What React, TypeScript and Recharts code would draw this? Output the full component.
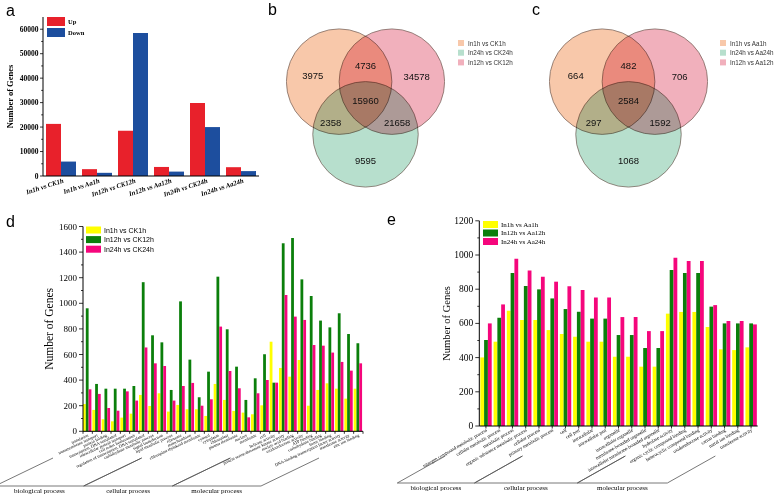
import React from 'react';
import { BarChart, Bar, XAxis, YAxis, ScatterChart, Scatter } from 'recharts';

const SERIF = '"Liberation Serif", "Times New Roman", serif';
const SANS = '"Liberation Sans", Arial, sans-serif';

// ---------- Panel a ----------
const aCategories = ['In1h vs CK1h', 'In1h vs Aa1h', 'In12h vs CK12h', 'In12h vs Aa12h', 'In24h vs CK24h', 'In24h vs Aa24h'];
const aUp = [21300, 2800, 18500, 3700, 29800, 3600];
const aDown = [5900, 1300, 58500, 1800, 20000, 2000];
const aTicks = [0, 5000, 10000, 15000, 20000, 25000, 30000, 35000, 40000, 45000, 50000, 55000, 60000];
const aNames = ['Up', 'Down'];

// ---------- Panels b / c (Venn) ----------
const vennCenters = [
  { x: -0.5, y: 0.5 },
  { x: 0.5, y: 0.5 },
  { x: 0, y: -0.5 },
];
const vennRegionPos = [
  { x: -1.0, y: 0.62 },
  { x: 0.0, y: 0.8 },
  { x: 0.97, y: 0.6 },
  { x: 0.0, y: 0.15 },
  { x: -0.66, y: -0.27 },
  { x: 0.6, y: -0.27 },
  { x: 0.0, y: -1.0 },
];
const bCounts = ['3975', '4736', '34578', '15960', '2358', '21658', '9595'];
const cCounts = ['664', '482', '706', '2584', '297', '1592', '1068'];
const bNames = ['In1h vs CK1h', 'In12h vs CK12h', 'In24h vs CK24h'];
const cNames = ['In1h vs Aa1h', 'In12h vs Aa12h', 'In24h vs Aa24h'];
const bLegend = ['In1h vs CK1h', 'In24h vs CK24h', 'In12h vs CK12h'];
const cLegend = ['In1h vs Aa1h', 'In24h vs Aa24h', 'In12h vs Aa12h'];

// ---------- Panel d ----------
const dCategories = [
  'translation', 'transmembrane transport', 'protein folding', 'transcription, DNA-templated',
  'intracellular protein transport', 'cell redox homeostasis', 'regulation of transcription, DNA-templated',
  'carbohydrate metabolic process', 'signal transduction', 'lipid metabolic process',
  'ribosome', 'mitochondrion', 'chloroplast thylakoid membrane', 'cytosol', 'cytoplasm', 'chloroplast',
  'plasma membrane', 'nucleus', 'membrane', 'cell',
  'helicase activity', 'protein serine/threonine kinase activity', 'nucleic acid binding',
  'oxidoreductase activity', 'ATP binding', 'carbohydrate binding', 'heme binding',
  'DNA-binding transcription factor activity', 'transferase activity', 'zinc ion binding',
];
const d1h = [213, 167, 94, 78, 107, 138, 284, 198, 297, 154, 206, 172, 172, 120, 370, 245, 159, 146, 133, 203, 700, 495, 427, 557, 200, 323, 375, 333, 255, 333];
const d12h = [961, 370, 333, 333, 333, 354, 1165, 750, 695, 323, 1015, 560, 266, 466, 1208, 797, 505, 245, 414, 602, 380, 1469, 1510, 1187, 1057, 865, 812, 922, 760, 688];
const d24h = [328, 292, 182, 161, 312, 240, 655, 531, 510, 240, 354, 378, 200, 250, 818, 471, 336, 109, 297, 401, 380, 1065, 896, 870, 674, 669, 615, 542, 474, 531];
const dTicks = [0, 100, 200, 300, 400, 500, 600, 700, 800, 900, 1000, 1100, 1200, 1300, 1400, 1500, 1600];
const dNames = ['In1h vs CK1h', 'In12h vs CK12h', 'In24h vs CK24h'];
const dGroups = [
  { name: 'biological process', from: 0, to: 9 },
  { name: 'cellular process', from: 10, to: 19 },
  { name: 'molecular process', from: 20, to: 29 },
];

// ---------- Panel e ----------
const eCategories = [
  'nitrogen compound metabolic process', 'cellular metabolic process', 'metabolic process',
  'organic substance metabolic process', 'cellular process', 'primary metabolic process',
  'cell', 'cell part', 'intracellular', 'intracellular part', 'organelle', 'intracellular organelle',
  'membrane-bounded organelle', 'intracellular membrane-bounded organelle',
  'hydrolase activity', 'organic cyclic compound binding', 'heterocyclic compound binding',
  'oxidoreductase activity', 'cation binding', 'metal ion binding', 'transferase activity',
];
const e1h = [401, 493, 674, 620, 620, 561, 538, 522, 493, 493, 405, 405, 347, 347, 657, 667, 667, 579, 448, 444, 460];
const e12h = [503, 633, 895, 819, 799, 746, 684, 668, 628, 628, 532, 532, 456, 456, 912, 895, 895, 698, 600, 600, 600];
const e24h = [600, 711, 978, 910, 873, 844, 817, 795, 752, 752, 637, 637, 555, 555, 984, 965, 965, 707, 614, 614, 594];
const eTicks = [0, 100, 200, 300, 400, 500, 600, 700, 800, 900, 1000, 1100, 1200];
const eNames = ['In1h vs Aa1h', 'In12h vs Aa12h', 'In24h vs Aa24h'];
const eGroups = [
  { name: 'biological process', from: 0, to: 5 },
  { name: 'cellular process', from: 6, to: 13 },
  { name: 'molecular process', from: 14, to: 20 },
];

const RED = '#e8212b';
const BLUE = '#1d4e9e';
const YEL = '#ffff00';
const GRN = '#0b7f0b';
const PNK = '#f5067c';
const VENN_FILLS = ['#f8c8aa', '#f1b0bc', '#b7dfcd'];
const VENN_LEGEND_FILLS = ['#f8c8aa', '#b7dfcd', '#f1b0bc'];

function yTick(p: any, cfg: { major: number; majorLen: number; minorLen: number; font: string; size: number; weight?: string; gap: number }) {
  const { x, y, payload } = p;
  const v = payload.value;
  const isMajor = v % cfg.major === 0;
  return (
    <g>
      <line x1={x} x2={x - (isMajor ? cfg.majorLen : cfg.minorLen)} y1={y} y2={y} stroke="#000" strokeWidth={0.8} />
      {isMajor && (
        <text x={x - cfg.majorLen - cfg.gap} y={y} textAnchor="end" dominantBaseline="central" fontFamily={cfg.font} fontSize={cfg.size} fontWeight={cfg.weight || 'normal'} fill="#000">
          {v}
        </text>
      )}
    </g>
  );
}

function slantTick(p: any, cfg: { angle: number; size: number; font: string; dx: number; dy: number; weight?: string; italic?: boolean; band?: number; tickMode?: 'edge' | 'center'; tickLen?: number; last?: number }) {
  const { x, y, payload, index } = p;
  return (
    <g>
      {cfg.tickMode === 'center' && <line x1={x} x2={x} y1={y} y2={y + (cfg.tickLen || 2)} stroke="#000" strokeWidth={0.8} />}
      {cfg.tickMode === 'edge' && <line x1={x - (cfg.band || 0) / 2} x2={x - (cfg.band || 0) / 2} y1={y} y2={y + (cfg.tickLen || 2)} stroke="#000" strokeWidth={0.8} />}
      {cfg.tickMode === 'edge' && index === cfg.last && <line x1={x + (cfg.band || 0) / 2} x2={x + (cfg.band || 0) / 2} y1={y} y2={y + (cfg.tickLen || 2)} stroke="#000" strokeWidth={0.8} />}
      <g transform={`translate(${x + cfg.dx},${y + cfg.dy}) rotate(${-cfg.angle})`}>
        <text x={0} y={0} textAnchor="end" fontFamily={cfg.font} fontSize={cfg.size} fontWeight={cfg.weight || 'normal'} fontStyle={cfg.italic ? 'italic' : 'normal'} fill="#000">
          {payload.value}
        </text>
      </g>
    </g>
  );
}

function yLabel(text: string, dx: number, size: number, weight: string) {
  return (props: any) => {
    const vb = props.viewBox || {};
    const cx = vb.x + dx;
    const cy = vb.y + vb.height / 2;
    return (
      <text x={cx} y={cy} transform={`rotate(-90, ${cx}, ${cy})`} textAnchor="middle" dominantBaseline="central" fontFamily={SERIF} fontSize={size} fontWeight={weight} fill="#000">
        {text}
      </text>
    );
  };
}

function PanelA() {
  const data = aCategories.map((c, i) => ({ cat: c, up: aUp[i], down: aDown[i] }));
  return (
    <div style={{ position: 'absolute', left: 0, top: 0 }}>
      <BarChart width={262} height={215} data={data} margin={{ top: 17, right: 3, bottom: 0, left: 0 }} barCategoryGap={3} barGap={0}>
        <XAxis dataKey="cat" height={39} interval={0} tickLine={false} tickSize={0} tickMargin={0} axisLine={{ stroke: '#000', strokeWidth: 1 }}
          tick={(p: any) => slantTick(p, { angle: 18, size: 6.8, font: SERIF, dx: 3, dy: 6.5, weight: 'bold', italic: true })} />
        <YAxis width={43} domain={[0, 65000]} ticks={aTicks} interval={0} tickLine={false} tickSize={0} tickMargin={0} axisLine={{ stroke: '#000', strokeWidth: 1 }}
          tick={(p: any) => yTick(p, { major: 10000, majorLen: 3, minorLen: 1.8, font: SERIF, size: 7.5, weight: 'bold', gap: 1.5 })}
          label={yLabel('Number of Genes', 10, 8.5, 'bold')} />
        <Bar dataKey="up" fill={RED} isAnimationActive={false} />
        <Bar dataKey="down" fill={BLUE} isAnimationActive={false} />
      </BarChart>
    </div>
  );
}

function Venn({ left, counts, names }: { left: number; counts: string[]; names: string[] }) {
  const W = 211;
  const H = 216;
  const ppu = W / 4;
  const labels = vennRegionPos.map((p, i) => ({ x: p.x, y: p.y, label: counts[i] }));
  return (
    <div style={{ position: 'absolute', left, top: 0 }}>
      <ScatterChart width={W} height={H} margin={{ top: 0, right: 0, bottom: 0, left: 0 }}>
        <XAxis type="number" dataKey="x" domain={[-2, 2]} hide />
        <YAxis type="number" dataKey="y" domain={[-2.05, 2.05]} hide />
        {vennCenters.map((c, i) => (
          <Scatter key={names[i]} name={names[i]} data={[c]} fill={VENN_FILLS[i]} isAnimationActive={false}
            shape={(p: any) => (
              <circle cx={p.cx} cy={p.cy} r={ppu} fill={VENN_FILLS[i]} stroke="#6e5a52" strokeWidth={0.7} style={{ mixBlendMode: 'multiply' }} />
            )} />
        ))}
        <Scatter name="counts" data={labels} isAnimationActive={false}
          shape={(p: any) => (
            <text x={p.cx} y={p.cy} textAnchor="middle" dominantBaseline="central" fontFamily={SANS} fontSize={9.5} fill="#111">
              {p.payload.label}
            </text>
          )} />
      </ScatterChart>
    </div>
  );
}

function VennLegend({ left, top, names }: { left: number; top: number; names: string[] }) {
  return (
    <svg style={{ position: 'absolute', left, top }} width={80} height={30}>
      {names.map((n, i) => (
        <g key={n}>
          <rect x={0} y={i * 9.7} width={6} height={6} fill={VENN_LEGEND_FILLS[i]} />
          <text x={10} y={i * 9.7 + 3} dominantBaseline="central" fontFamily={SANS} fontSize={6.3} fill="#333">{n}</text>
        </g>
      ))}
    </svg>
  );
}

// geometry constants for d and e
const D_LEFT = 0, D_TOP = 220, D_W = 370, D_H = 274, D_YW = 83, D_MT = 6.5, D_MR = 7, D_XH = 62.7;
const E_LEFT = 380, E_TOP = 215, E_W = 385, E_H = 279, E_YW = 99.3, E_MT = 5.8, E_MR = 7.3, E_XH = 68;

function PanelD() {
  const data = dCategories.map((c, i) => ({ cat: c, a: d1h[i], b: d12h[i], c: d24h[i] }));
  const band = (D_W - D_YW - D_MR) / dCategories.length;
  return (
    <div style={{ position: 'absolute', left: D_LEFT, top: D_TOP }}>
      <BarChart width={D_W} height={D_H} data={data} margin={{ top: D_MT, right: D_MR, bottom: 0, left: 0 }} barGap={0} barSize={2.8}>
        <XAxis dataKey="cat" height={D_XH} interval={0} tickLine={false} tickSize={0} tickMargin={0} axisLine={{ stroke: '#000', strokeWidth: 1 }}
          tick={(p: any) => slantTick(p, { angle: 25, size: 4.3, font: SERIF, dx: 1, dy: 5, band, tickMode: 'edge', tickLen: 2.5, last: dCategories.length - 1 })} />
        <YAxis width={D_YW} domain={[0, 1600]} ticks={dTicks} interval={0} tickLine={false} tickSize={0} tickMargin={0} axisLine={{ stroke: '#000', strokeWidth: 1 }}
          tick={(p: any) => yTick(p, { major: 200, majorLen: 4, minorLen: 2, font: SERIF, size: 9, gap: 2 })}
          label={yLabel('Number of Genes', 49, 11.5, 'normal')} />
        <Bar dataKey="a" fill={YEL} isAnimationActive={false} />
        <Bar dataKey="b" fill={GRN} isAnimationActive={false} />
        <Bar dataKey="c" fill={PNK} isAnimationActive={false} />
      </BarChart>
    </div>
  );
}

function PanelE() {
  const data = eCategories.map((c, i) => ({ cat: c, a: e1h[i], b: e12h[i], c: e24h[i] }));
  const band = (E_W - E_YW - E_MR) / eCategories.length;
  return (
    <div style={{ position: 'absolute', left: E_LEFT, top: E_TOP }}>
      <BarChart width={E_W} height={E_H} data={data} margin={{ top: E_MT, right: E_MR, bottom: 0, left: 0 }} barGap={0} barSize={3.8}>
        <XAxis dataKey="cat" height={E_XH} interval={0} tickLine={false} tickSize={0} tickMargin={0} axisLine={{ stroke: '#000', strokeWidth: 1 }}
          tick={(p: any) => slantTick(p, { angle: 30, size: 4.8, font: SERIF, dx: 1.5, dy: 5, band, tickMode: 'center', tickLen: 2.5 })} />
        <YAxis width={E_YW} domain={[0, 1200]} ticks={eTicks} interval={0} tickLine={false} tickSize={0} tickMargin={0} axisLine={{ stroke: '#000', strokeWidth: 1 }}
          tick={(p: any) => yTick(p, { major: 200, majorLen: 4, minorLen: 2, font: SERIF, size: 9.5, gap: 2 })}
          label={yLabel('Number of Genes', 66.7, 10.5, 'normal')} />
        <Bar dataKey="a" fill={YEL} isAnimationActive={false} />
        <Bar dataKey="b" fill={GRN} isAnimationActive={false} />
        <Bar dataKey="c" fill={PNK} isAnimationActive={false} />
      </BarChart>
    </div>
  );
}

function Brackets({ groups, x0, band, yBase, slantDx, slantDy, textDy, size }: any) {
  return (
    <>
      {groups.map((g: any) => {
        const xl = x0 + g.from * band;
        const xr = x0 + (g.to + 1) * band;
        return (
          <g key={g.name}>
            <polyline points={`${xl + slantDx},${yBase - slantDy} ${xl},${yBase} ${xr},${yBase} ${xr + slantDx},${yBase - slantDy}`} fill="none" stroke="#555" strokeWidth={0.8} />
            <text x={(xl + xr) / 2} y={yBase + textDy} textAnchor="middle" fontFamily={SERIF} fontSize={size} fill="#000">{g.name}</text>
          </g>
        );
      })}
    </>
  );
}

export default function App() {
  const dBand = (D_W - D_YW - D_MR) / dCategories.length;
  const eBand = (E_W - E_YW - E_MR) / eCategories.length;
  return (
    <div style={{ position: 'relative', width: 778, height: 494, background: '#fff', overflow: 'hidden' }}>
      <style>{`body{margin:0}`}</style>
      <PanelA />
      <Venn left={260} counts={bCounts} names={bNames} />
      <Venn left={523} counts={cCounts} names={cNames} />
      <VennLegend left={458} top={40} names={bLegend} />
      <VennLegend left={720} top={40} names={cLegend} />
      <PanelD />
      <PanelE />
      <svg style={{ position: 'absolute', left: 0, top: 0, pointerEvents: 'none' }} width={778} height={494}>
        {/* panel a legend */}
        {aNames.map((n, i) => (
          <g key={n}>
            <rect x={47} y={17 + i * 11} width={18} height={9} fill={[RED, BLUE][i]} />
            <text x={68} y={21.5 + i * 11} dominantBaseline="central" fontFamily={SERIF} fontWeight="bold" fontSize={6.5} fill="#000">{n}</text>
          </g>
        ))}
        {/* panel d legend */}
        {dNames.map((n, i) => (
          <g key={n}>
            <rect x={86} y={226.5 + i * 9.6} width={15} height={7} fill={[YEL, GRN, PNK][i]} />
            <text x={104} y={230 + i * 9.6} dominantBaseline="central" fontFamily={SANS} fontSize={7} fill="#000">{n}</text>
          </g>
        ))}
        {/* panel e legend */}
        {eNames.map((n, i) => (
          <g key={n}>
            <rect x={483} y={221 + i * 8.5} width={15} height={7} fill={[YEL, GRN, PNK][i]} />
            <text x={501} y={224.5 + i * 8.5} dominantBaseline="central" fontFamily={SERIF} fontSize={7} fill="#000">{n}</text>
          </g>
        ))}
        {/* brackets */}
        <Brackets groups={dGroups} x0={D_LEFT + D_YW - 88} band={dBand * 0.95} yBase={486} slantDx={58} slantDy={28} textDy={7} size={7} />
        <Brackets groups={eGroups} x0={E_LEFT + E_YW - 82} band={eBand * 0.97} yBase={483} slantDx={48} slantDy={27} textDy={7} size={7} />
        {/* panel letters */}
        <text x={6} y={16} fontFamily={SANS} fontSize={16} fill="#000">a</text>
        <text x={268} y={15} fontFamily={SANS} fontSize={16} fill="#000">b</text>
        <text x={532} y={15} fontFamily={SANS} fontSize={16} fill="#000">c</text>
        <text x={6} y={227} fontFamily={SANS} fontSize={16} fill="#000">d</text>
        <text x={387} y={225} fontFamily={SANS} fontSize={16} fill="#000">e</text>
      </svg>
    </div>
  );
}
